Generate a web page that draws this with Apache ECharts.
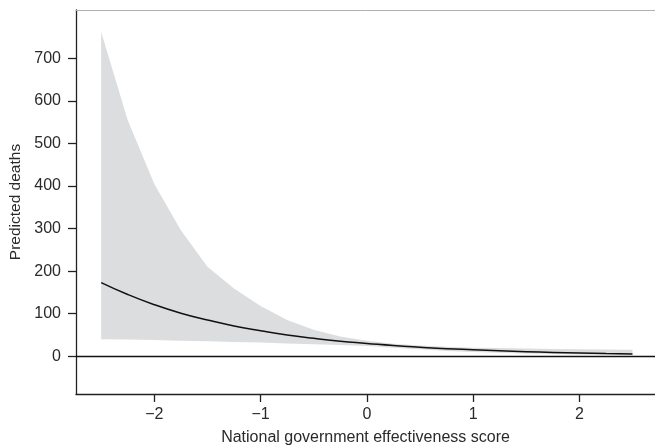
<!DOCTYPE html>
<html>
<head>
<meta charset="utf-8">
<script src="https://cdn.jsdelivr.net/npm/echarts@6/dist/echarts.min.js"></script>
<style>
  html, body { margin: 0; padding: 0; background: #fff; }
  #chart { width: 655px; height: 447px; }
</style>
</head>
<body>
<div id="chart"></div>
<script>
// government effectiveness score (x)
let scores = [-2.5, -2.25, -2, -1.75, -1.5, -1.25, -1, -0.75, -0.5, -0.25, 0,
  0.25, 0.5, 0.75, 1, 1.25, 1.5, 1.75, 2, 2.25, 2.5];
// predicted deaths
let predicted = [173, 145, 121, 101, 85, 71, 60, 50, 42, 35, 30,
  25, 21, 17.5, 15, 12.5, 10.5, 8.8, 7.4, 6.2, 5.2];
// confidence band
let lowerCI = [40, 39, 38, 36.5, 35, 33.5, 32, 30, 28, 26, 24,
  20, 16, 12, 10, 8, 6.5, 5, 4, 3.5, 3];
let upperCI = [762, 555, 405, 296, 210, 159, 118, 85, 62, 46, 36,
  29, 25, 22, 20, 19, 18, 17, 16, 15.5, 15];

let xTicks = [-2, -1, 0, 1, 2];
let yTicks = [0, 100, 200, 300, 400, 500, 600, 700];

let myChart = echarts.init(document.getElementById("chart"));

let font = "'Liberation Sans', Arial, sans-serif";

let bandData = scores.map((x, i) => [x, lowerCI[i], upperCI[i]]);
let lineData = scores.map((x, i) => [x, predicted[i]]);

// draws the whole band as one polygon (upper edge forward, lower edge back)
function renderBand(params, api) {
  if (params.dataIndex !== 0) return;
  let pts = [];
  for (let i = 0; i < scores.length; i++) pts.push(api.coord([scores[i], upperCI[i]]));
  for (let i = scores.length - 1; i >= 0; i--) pts.push(api.coord([scores[i], lowerCI[i]]));
  return {
    type: "polygon",
    shape: { points: pts },
    style: { fill: "#dcdddf" },
  };
}

myChart.setOption({
  animation: false,
  grid: { left: 76, right: 0, top: 10, bottom: 53, outerBoundsMode: "none" },
  xAxis: [
    {
      type: "value",
      min: -2.737,
      max: 2.712,
      name: "National government effectiveness score",
      nameLocation: "middle",
      nameGap: 36,
      nameTextStyle: { fontFamily: font, fontSize: 16, color: "#2a2a2a" },
      splitLine: { show: false },
      axisLine: { onZero: false, lineStyle: { color: "#222", width: 1.3 } },
      axisTick: {
        customValues: xTicks,
        length: 8,
        lineStyle: { color: "#222", width: 1.3 },
      },
      axisLabel: {
        customValues: xTicks,
        margin: 13,
        fontFamily: font,
        fontSize: 16,
        color: "#2a2a2a",
        formatter: (v) => (v < 0 ? "\u2212" + Math.abs(v) : String(v)),
      },
    },
    {
      // light top border
      type: "value",
      position: "top",
      min: -2.737,
      max: 2.712,
      axisLine: { onZero: false, lineStyle: { color: "#b0b0b0", width: 1 } },
      axisTick: { show: false },
      axisLabel: { show: false },
      splitLine: { show: false },
    },
  ],
  yAxis: {
    type: "value",
    min: -89,
    max: 814,
    name: "Predicted deaths",
    nameLocation: "middle",
    nameGap: 49,
    nameTextStyle: { fontFamily: font, fontSize: 15.5, color: "#2a2a2a" },
    splitLine: { show: false },
    axisLine: { show: true, onZero: false, lineStyle: { color: "#222", width: 1.3 } },
    axisTick: {
      customValues: yTicks,
      length: 8,
      lineStyle: { color: "#222", width: 1.3 },
    },
    axisLabel: {
      customValues: yTicks,
      margin: 15,
      fontFamily: font,
      fontSize: 16,
      color: "#2a2a2a",
    },
  },
  series: [
    {
      type: "custom",
      renderItem: renderBand,
      data: bandData,
      encode: { x: 0, y: [1, 2] },
      silent: true,
    },
    {
      type: "line",
      data: lineData,
      symbol: "none",
      smooth: true,
      lineStyle: { color: "#111", width: 1.5 },
      markLine: {
        silent: true,
        symbol: "none",
        label: { show: false },
        lineStyle: { color: "#111", type: "solid", width: 1.3 },
        data: [{ yAxis: 0 }],
      },
    },
  ],
});
</script>
</body>
</html>
